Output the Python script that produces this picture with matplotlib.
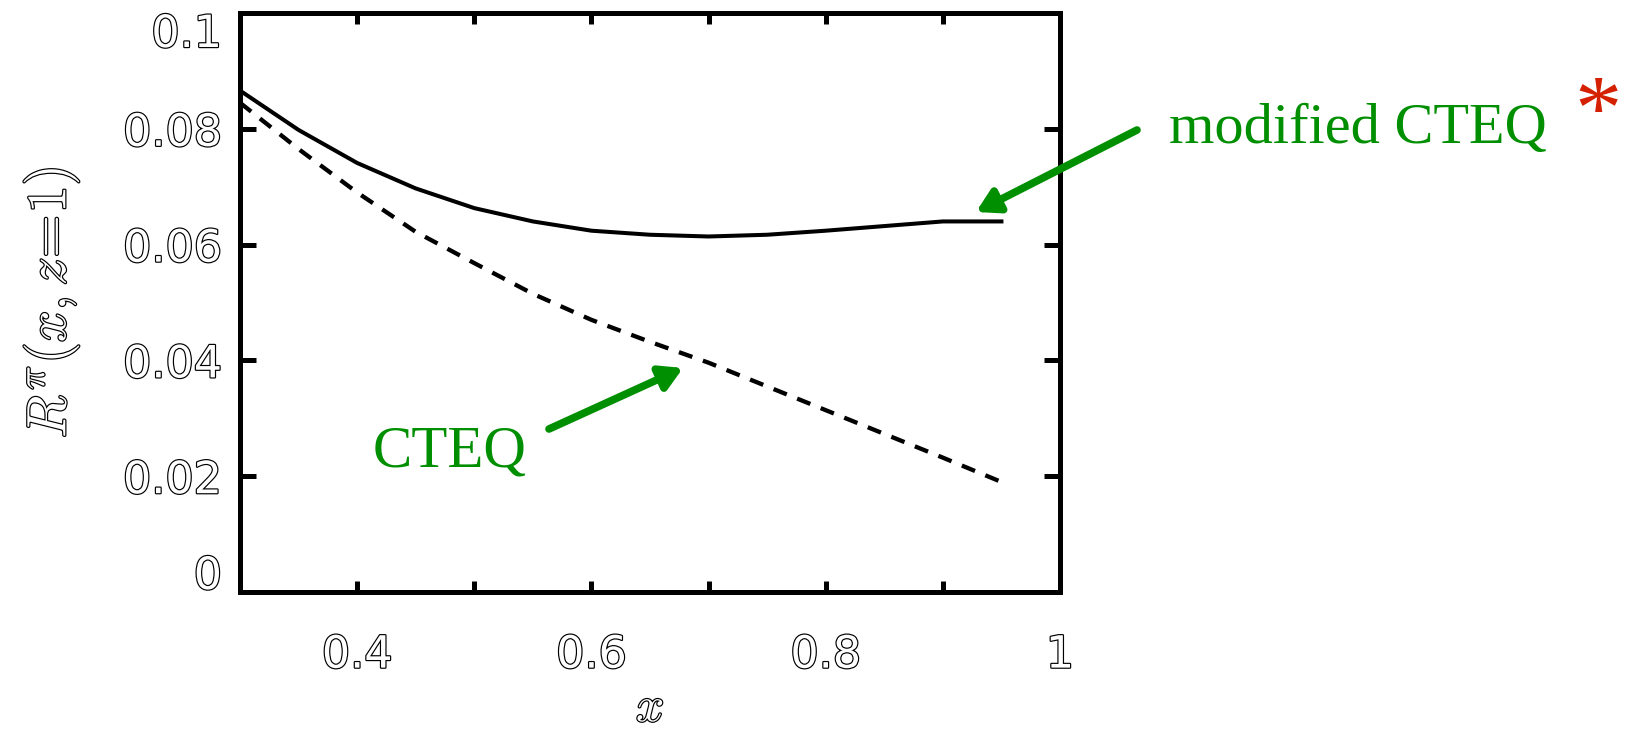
import matplotlib
matplotlib.use('Agg')
import matplotlib.pyplot as plt
import matplotlib.patheffects as pe
import matplotlib.transforms as mtransforms
import numpy as np

plt.rcParams['mathtext.fontset'] = 'cm'

# data
x = [0.30, 0.35, 0.40, 0.45, 0.50, 0.55, 0.60, 0.65, 0.70, 0.75, 0.80, 0.85, 0.90, 0.95]
modified_cteq = [0.0866, 0.0798, 0.0741, 0.0697, 0.0663, 0.0640, 0.0624, 0.0617,
                 0.0614, 0.0617, 0.0624, 0.0632, 0.0640, 0.0640]
cteq = [0.0845, 0.0765, 0.0690, 0.0622, 0.0568, 0.0515, 0.0470, 0.0432,
        0.0396, 0.0355, 0.0314, 0.0273, 0.0232, 0.0190]

xticks = [0.4, 0.6, 0.8, 1.0]
xtick_labels = ['0.4', '0.6', '0.8', '1']
yticks = [0, 0.02, 0.04, 0.06, 0.08, 0.1]
ytick_labels = ['0', '0.02', '0.04', '0.06', '0.08', '0.1']

hollow = [pe.Stroke(linewidth=1.7, foreground='black'), pe.Normal()]
green = '#008f00'

fig = plt.figure(figsize=(16.25, 7.31), dpi=100)
ax = fig.add_axes([0.1477, 0.1902, 0.5046, 0.792])

ax.plot(x, modified_cteq, color='black', lw=2.9, solid_joinstyle='miter')
ax.plot(x, cteq, color='black', lw=3.1, dashes=(3.3, 2.6))

ax.set_xlim(0.3, 1.0)
ax.set_ylim(0, 0.1)
ax.set_xticks(xticks)
ax.set_xticklabels(xtick_labels)
ax.set_xticks(np.arange(0.3, 1.0, 0.1), minor=True)
ax.set_yticks(yticks)
ax.set_yticklabels(ytick_labels)

for s in ax.spines.values():
    s.set_linewidth(3.6)

ax.tick_params(axis='x', which='both', direction='in', top=True, length=8, width=3.6, pad=30)
ax.tick_params(axis='y', which='both', direction='in', right=True, length=11.5, width=3.6, pad=13)

for lab in ax.get_xticklabels() + ax.get_yticklabels():
    lab.set_fontsize(32)
    lab.set_color('white')
    lab.set_path_effects(hollow)

# end labels on the y axis sit a bit inside the axis range
ylabs = ax.get_yticklabels()
ylabs[0].set_transform(ylabs[0].get_transform() +
                       mtransforms.ScaledTranslation(0, 20 / 100, fig.dpi_scale_trans))
ylabs[-1].set_transform(ylabs[-1].get_transform() +
                        mtransforms.ScaledTranslation(0, -17 / 100, fig.dpi_scale_trans))

xl = ax.set_xlabel(r'$x$', fontsize=36, color='white', labelpad=5)
xl.set_path_effects(hollow)
yl = ax.set_ylabel(r'$R^{\pi}(x,z\!=\!1)$', fontsize=40, color='white', labelpad=30)
yl.set_path_effects(hollow)

arrow = dict(arrowstyle='-|>,head_length=1.3,head_width=0.75', color=green, lw=5.5,
             shrinkA=0, shrinkB=0)

ax.annotate('', xy=(976, 731 - 212), xycoords='figure pixels',
            xytext=(1137, 731 - 130), textcoords='figure pixels', arrowprops=arrow,
            annotation_clip=False)
ax.annotate('', xy=(683, 731 - 368), xycoords='figure pixels',
            xytext=(549, 731 - 429), textcoords='figure pixels', arrowprops=arrow,
            annotation_clip=False)

fig.text(1169 / 1625, 1 - 143 / 731, 'modified CTEQ', color=green, fontsize=42,
         family='Liberation Serif', ha='left', va='baseline')
fig.text(1598 / 1625, 1 - 139 / 731, '*', color='#d42000', fontsize=68,
         family='Liberation Serif', ha='center', va='baseline')
fig.text(373 / 1625, 1 - 466 / 731, 'CTEQ', color=green, fontsize=42.5,
         family='Liberation Serif', ha='left', va='baseline')

fig.savefig('out.png', dpi=100)
